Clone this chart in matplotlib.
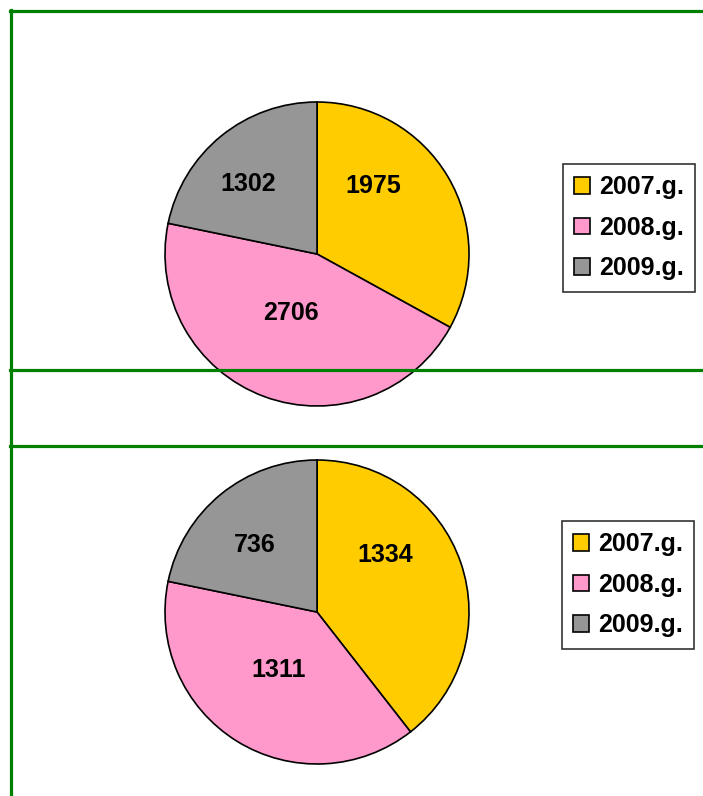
import matplotlib.pyplot as plt
from matplotlib.lines import Line2D

years = ['2007.g.', '2008.g.', '2009.g.']
top_values = [1975, 2706, 1302]
bottom_values = [1334, 1311, 736]
colors = ['#FFCC00', '#FF99CC', '#969696']

# label placement inside the slices (radius units), like Excel's best fit
top_label_pos = [(0.37, 0.45), (-0.17, -0.39), (-0.45, 0.46)]
bottom_label_pos = [(0.45, 0.375), (-0.25, -0.38), (-0.41, 0.44)]

W, H = 703, 796
fig = plt.figure(figsize=(W / 100, H / 100), dpi=100)
plt.rcParams['font.family'] = ['Liberation Sans', 'DejaVu Sans']


def px_axes(x0, y0, x1, y1):
    # axes box given in pixel coordinates (top-left origin)
    return fig.add_axes([x0 / W, 1 - y1 / H, (x1 - x0) / W, (y1 - y0) / H])


def draw_pie(ax, values, label_pos, legend_box):
    wedges, texts, autotexts = ax.pie(
        values, colors=colors, startangle=90, counterclock=False,
        autopct=lambda p: '', pctdistance=0.6,
        wedgeprops=dict(edgecolor='black', linewidth=1.2))
    for w in wedges:
        w.set_clip_on(False)
    for t, v, pos in zip(autotexts, values, label_pos):
        t.set_text(str(v))
        t.set_position(pos)
        t.set_fontsize(18)
        t.set_fontweight('bold')
    ax.set_xlim(-1, 1)
    ax.set_ylim(-1, 1)
    ax.set_aspect('equal')
    ax.axis('off')
    x0, y0 = legend_box
    leg = fig.legend(wedges, years, loc='upper left',
                     bbox_to_anchor=(x0 / W, 1 - y0 / H),
                     prop=dict(size=18, weight='bold'),
                     frameon=True, fancybox=False, edgecolor='black',
                     handlelength=0.62, handleheight=0.62, handletextpad=0.36,
                     labelspacing=0.66, borderpad=0.45, borderaxespad=0)
    leg.get_frame().set_linewidth(1.2)


ax1 = px_axes(165, 102, 469, 406)
draw_pie(ax1, top_values, top_label_pos, (563, 164))

ax2 = px_axes(165, 460, 469, 764)
draw_pie(ax2, bottom_values, bottom_label_pos, (562, 521))

# green frame lines
green = '#008000'
lw = 2.3
for y in [11, 369.5, 445.5]:
    fig.add_artist(Line2D([10 / W, 1], [1 - y / H] * 2, color=green, lw=lw,
                          transform=fig.transFigure, zorder=5))
fig.add_artist(Line2D([10.5 / W] * 2, [1 - 9.5 / H, 0], color=green, lw=lw,
                      transform=fig.transFigure, zorder=5))

fig.savefig('out.png', dpi=100)
